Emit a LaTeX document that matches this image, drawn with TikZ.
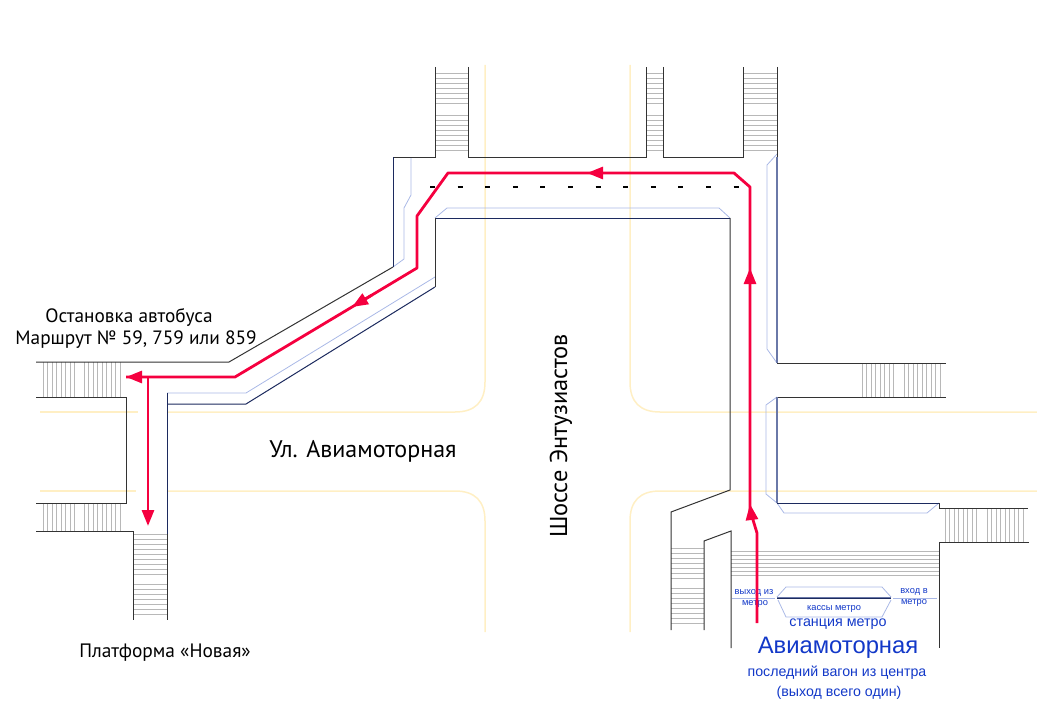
\documentclass[tikz,border=0pt]{standalone}
\usepackage{fontspec}
\setmainfont{PT Sans}
\newfontfamily\arialfont{Liberation Sans}
\usetikzlibrary{arrows.meta}
\definecolor{routered}{HTML}{F5003F}
\definecolor{metroblue}{HTML}{1238C8}
\definecolor{roadyellow}{HTML}{FFEFC4}
\definecolor{paleblue}{HTML}{A9B8E6}
\definecolor{navywall}{HTML}{1C2A5E}
\definecolor{slatewall}{HTML}{6A78A8}
\tikzset{
    road/.style={roadyellow,line width=1.5pt},
    stairline/.style={black!28,line width=1pt},
    wall/.style={black!80,line width=1pt},
    navy/.style={navywall,line width=1pt},
    slate/.style={slatewall,line width=1.4pt},
    pale/.style={paleblue,line width=.8pt},
    route/.style={routered,line width=2.8pt,line join=round},
    routetip/.style={route,-{Triangle[length=16pt,width=12pt]}},
    maplabel/.style={black,inner sep=0pt},
    metrolabel/.style={metroblue,inner sep=0pt,font=\arialfont}
}
\begin{document}
\begin{tikzpicture}[x=1pt,y=-1pt]
    \useasboundingbox (0,0) rectangle (1037,701);

    % roads
    \draw[road] (485,65) -- (485,382) .. controls (485,402) and (475,412) .. (455,412) -- (167,412);
    \draw[road] (40,412) -- (138,412);
    \draw[road] (40,491) -- (136,491);
    \draw[road] (167,491) -- (455,491) .. controls (475,491) and (485,501) .. (485,521) -- (485,632);
    \draw[road] (630,65) -- (630,382) .. controls (630,402) and (640,412) .. (660,412) -- (1037,412);
    \draw[road] (630,632) -- (630,521) .. controls (630,501) and (640,491) .. (660,491) -- (1037,491);

    % stairs, horizontal treads
    \foreach \xa/\xb in {435/468,646/663,743/777}
    {
        \foreach \y in {74,79,...,105,115,120,...,154}
        {
            \draw[stairline] (\xa,\y) -- (\xb,\y);
        }
    }
    \foreach \y in {534,539,...,577,584,589,...,616}
    {
        \draw[stairline] (133,\y) -- (167,\y);
    }
    \foreach \y in {548,553,...,578,588,593,...,623}
    {
        \draw[stairline] (671,\y) -- (704,\y);
    }
    \foreach \y in {551,555,...,576}
    {
        \draw[stairline] (731,\y) -- (939,\y);
    }

    % stairs, vertical treads
    \foreach \x in {43,47.5,...,75,84,88.5,...,123}
    {
        \draw[stairline] (\x,362) -- (\x,397);
        \draw[stairline] (\x,503) -- (\x,531);
    }
    \foreach \x in {862,866.5,...,895,904,908.5,...,943}
    {
        \draw[stairline] (\x,363) -- (\x,397);
    }
    \foreach \x in {945,949.5,...,978,987,991.5,...,1026}
    {
        \draw[stairline] (\x,508) -- (\x,542);
    }

    % pale kerb lines
    \draw[pale] (411,157) -- (411,195) -- (404,208) -- (404,259) -- (393,267);
    \draw[pale] (435,218) -- (447,208) -- (719,208) -- (730,218);
    \draw[pale] (435,277) -- (246,393) -- (167,393);
    \draw[pale] (777,154) -- (767,165) -- (767,349) -- (777,363);
    \draw[pale] (777,397) -- (766,405) -- (766,494) -- (777,503) -- (784,513) -- (927,513) -- (939,503);

    % walls
    \draw[wall] (435,67) -- (435,157) -- (393,157);
    \draw[wall] (468,67) -- (468,157) -- (646,157) -- (646,67);
    \draw[wall] (663,67) -- (663,157) -- (743,157) -- (743,67);
    \draw[wall] (777,67) -- (777,157);
    \draw[navy] (393,157) -- (393,267);
    \draw[wall] (393,267) -- (229,362) -- (36,362);
    \draw[wall] (36,397) -- (126,397) -- (126,503) -- (36,503);
    \draw[wall] (36,531) -- (133,531) -- (133,620);
    \draw[navy] (435,218) -- (730,218);
    \draw[wall] (435,218) -- (435,287);
    \draw[navy] (435,287) -- (246,404) -- (167,404);
    \draw[navy] (167,393) -- (167,534);
    \draw[wall] (167,534) -- (167,620);
    \draw[wall] (730,218) -- (730,490) -- (671,512) -- (671,630);
    \draw[wall] (731,648) -- (731,531) -- (704,541) -- (704,630);
    \draw[slate] (777,157) -- (777,363);
    \draw[wall] (777,363) -- (946,363);
    \draw[wall] (777,397) -- (946,397);
    \draw[slate] (777,397) -- (777,503);
    \draw[navy] (777,503) -- (939,503);
    \draw[wall] (939,503) -- (939,508) -- (1028,508);
    \draw[wall] (1029,542) -- (939,542) -- (939,648);

    % crossing
    \foreach \x in {0,...,11}
    {
        \draw[black,line width=1.8pt] (430+27.6*\x,187) -- ++(5,0);
    }

    % metro hall
    \draw[pale] (777,597) -- (786,587) -- (882,587) -- (891,597);
    \draw[pale] (778,600) -- (786,617) -- (882,617) -- (891,600);
    \draw[pale] (732,598) -- (775,598);
    \draw[pale] (893,598) -- (937,598);
    \draw[slatewall,line width=2.4pt] (777,598) -- (891,598);
    \draw[navywall,line width=.8pt] (777,598) -- (891,598);

    % labels
    \node[maplabel,font=\fontsize{19.3}{22}\selectfont] (busstop) at (129,317) {Остановка автобуса};
    \node[maplabel,font=\fontsize{19.3}{22}\selectfont] (busroutes) at (136,340) {Маршрут № 59, 759 или 859};
    \node[maplabel,font=\fontsize{24}{27}\selectfont] (street) at (363,451) {Ул. Авиамоторная};
    \node[maplabel,rotate=90,font=\fontsize{24.4}{27}\selectfont] (highway) at (561,436) {Шоссе Энтузиастов};
    \node[maplabel,font=\fontsize{19.4}{22}\selectfont] (platform) at (165,653) {Платформа «Новая»};
    \node[metrolabel,font=\arialfont\fontsize{9.3}{11}\selectfont] (exitone) at (754,593) {выход из};
    \node[metrolabel,font=\arialfont\fontsize{9.3}{11}\selectfont] (exittwo) at (755,604) {метро};
    \node[metrolabel,font=\arialfont\fontsize{9.3}{11}\selectfont] (entryone) at (914,592) {вход в};
    \node[metrolabel,font=\arialfont\fontsize{9.3}{11}\selectfont] (entrytwo) at (914,603) {метро};
    \node[metrolabel,font=\arialfont\fontsize{9.3}{11}\selectfont] (ticket) at (834,609) {кассы метро};
    \node[metrolabel,font=\arialfont\fontsize{14.3}{16}\selectfont] (station) at (838,624) {станция метро};
    \node[metrolabel,font=\arialfont\fontsize{23.8}{26}\selectfont] (stationname) at (838,648) {Авиамоторная};
    \node[metrolabel,font=\arialfont\fontsize{14.2}{16}\selectfont] (lastcar) at (837,673) {последний вагон из центра};
    \node[metrolabel,font=\arialfont\fontsize{14.2}{16}\selectfont] (oneexit) at (839,693) {(выход всего один)};

    % walking route
    \coordinate (start) at (757,623);
    \coordinate (bend) at (757,533);
    \coordinate (tipa) at (750,504);
    \coordinate (tipb) at (750,268);
    \coordinate (tipc) at (587,173);
    \coordinate (tipd) at (352,307);
    \coordinate (fork) at (148,377);
    \coordinate (tipe) at (126,377);
    \coordinate (tipf) at (148,526);
    \draw[route] (start) -- (bend) -- (750,510) -- (tipb) -- (750,187) -- (734,173) -- (tipc) -- (448,173)
        -- (417,216) -- (417,268) -- (tipd) -- (235,377) -- (tipe);
    \draw[route] (fork) -- (148,515);
    \draw[routetip] (751,512) -- (tipa);
    \draw[routetip] (750,290) -- (tipb);
    \draw[routetip] (610,173) -- (tipc);
    \draw[routetip] (372,295) -- (tipd);
    \draw[routetip] (150,377) -- (tipe);
    \draw[routetip] (148,505) -- (tipf);
\end{tikzpicture}
\end{document}
